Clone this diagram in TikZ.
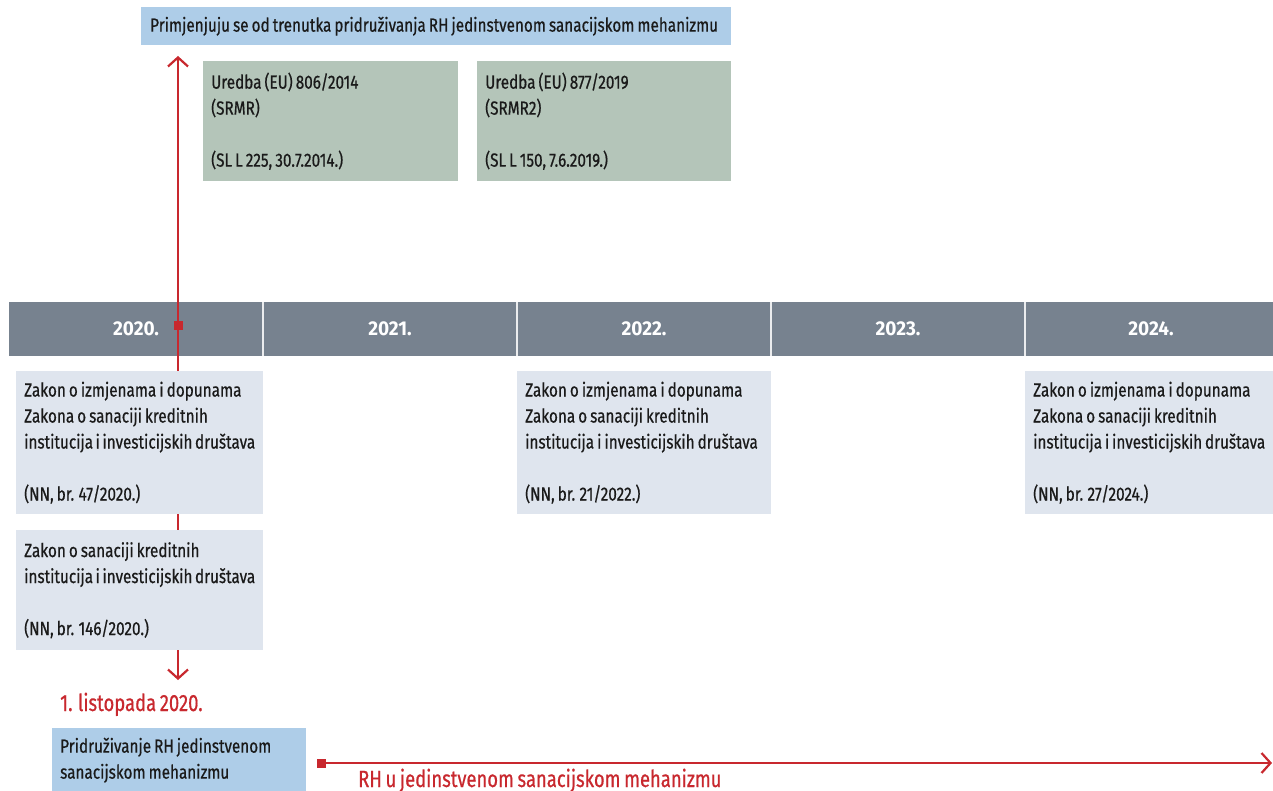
\documentclass[tikz,border=0pt]{standalone}
\usepackage{fontspec}
\setmainfont{Fira Sans}[FakeStretch=0.785, WordSpace=0.75, FakeBold=0.6]
\newfontfamily\bodyfont{Fira Sans}[FakeStretch=0.805, WordSpace=0.75, FakeBold=0.6]
\newfontfamily\yearfont{Fira Sans}[FakeStretch=0.95]
\usetikzlibrary{arrows.meta}
\definecolor{redc}{HTML}{C8282E}
\definecolor{barc}{HTML}{77828F}
\definecolor{lightbox}{HTML}{DFE5EE}
\definecolor{greenbox}{HTML}{B4C5B9}
\definecolor{bluebox}{HTML}{AECDE8}
\definecolor{txtc}{HTML}{1A1A1A}
\begin{document}
\begin{tikzpicture}[x=1pt,y=-1pt,
  every node/.style={text=txtc},
  boxstyle/.style={anchor=north west, inner xsep=8pt, inner ysep=0pt, align=flush left,
     font=\bodyfont\fontsize{19}{26}\selectfont,
     execute at begin node={\hyphenpenalty=10000\exhyphenpenalty=10000\hfuzz=20pt}},
  lbox/.style={boxstyle, fill=lightbox},
  gbox/.style={boxstyle, fill=greenbox},
  bbox/.style={boxstyle, fill=bluebox},
  year/.style={text=white, font=\yearfont\fontsize{20}{22}\selectfont\bfseries},
  redlbl/.style={text=redc, font=\fontsize{23.5}{26}\selectfont, anchor=base west, inner sep=0pt},
  marker/.style={fill=redc, minimum size=9pt, inner sep=0pt},
  redline/.style={draw=redc, line width=2.2pt},
  tipstyle/.style={-{Straight Barb[length=9pt,width=20pt,line width=2.2pt]}},
  divider/.style={draw=white!85!barc, line width=1.5pt}
]
\useasboundingbox (0,0) rectangle (1273,791);
\clip (0,0) rectangle (1273,791);

% timeline bar
\fill[barc] (9,302) rectangle (1273,356);
\foreach \x in {263,517,771,1025} \draw[divider] (\x,302) -- (\x,356);
\node[year] (y2020) at (136,329) {2020.};
\node[year] (y2021) at (390,329) {2021.};
\node[year] (y2022) at (644,329) {2022.};
\node[year] (y2023) at (898,329) {2023.};
\node[year] (y2024) at (1151,329) {2024.};

% red vertical connector
\node[marker] (sq) at (178,325) {};
\coordinate (upTip) at (178,56);
\coordinate (downTip) at (178,680);
\draw[redline, tipstyle] (sq.center) -- (upTip);
\draw[redline, tipstyle] (sq.center) -- (downTip);

% top banner and regulation boxes
\node[bbox, inner xsep=9pt, text width=572pt, minimum height=38pt] (banner) at (141,7)
  {Primjenjuju~se~od~trenutka~pridruživanja~RH~jedinstvenom~sanacijskom~mehanizmu};
\node[gbox, text width=239pt, minimum height=120pt] (srmr) at (203,61)
  {Uredba (EU) 806/2014\\(SRMR)\\[26pt](SL L 225, 30.7.2014.)};
\node[gbox, text width=238pt, minimum height=120pt] (srmr2) at (477,61)
  {Uredba (EU) 877/2019\\(SRMR2)\\[26pt](SL L 150, 7.6.2019.)};

% law boxes
\node[lbox, text width=231pt, minimum height=143pt] (zA) at (16,371)
  {Zakon o izmjenama i dopunama\\Zakona o sanaciji kreditnih\\institucija~i~investicijskih~društava\\[26pt](NN, br. 47/2020.)};
\node[lbox, text width=231pt, minimum height=120pt] (zB) at (16,530)
  {Zakon o sanaciji kreditnih\\institucija~i~investicijskih~društava\\[26pt](NN, br. 146/2020.)};
\node[lbox, text width=238pt, minimum height=143pt] (z2022) at (517,371)
  {Zakon o izmjenama i dopunama\\Zakona o sanaciji kreditnih\\institucija~i~investicijskih~društava\\[26pt](NN, br. 21/2022.)};
\node[lbox, text width=232pt, minimum height=143pt] (z2024) at (1025,371)
  {Zakon o izmjenama i dopunama\\Zakona o sanaciji kreditnih\\institucija~i~investicijskih~društava\\[26pt](NN, br. 27/2024.)};

% bottom part
\node[redlbl] (date) at (60,711) {1. listopada 2020.};
\node[bbox, text width=238pt, minimum height=64pt] (join) at (52,728)
  {Pridruživanje RH jedinstvenom\\sanacijskom mehanizmu};
\node[marker] (sq2) at (321,763) {};
\coordinate (rEnd) at (1272,763);
\draw[redline, tipstyle] (sq2.center) -- (rEnd);
\node[redlbl] (srm) at (358,787) {RH u jedinstvenom sanacijskom mehanizmu};
\end{tikzpicture}
\end{document}
